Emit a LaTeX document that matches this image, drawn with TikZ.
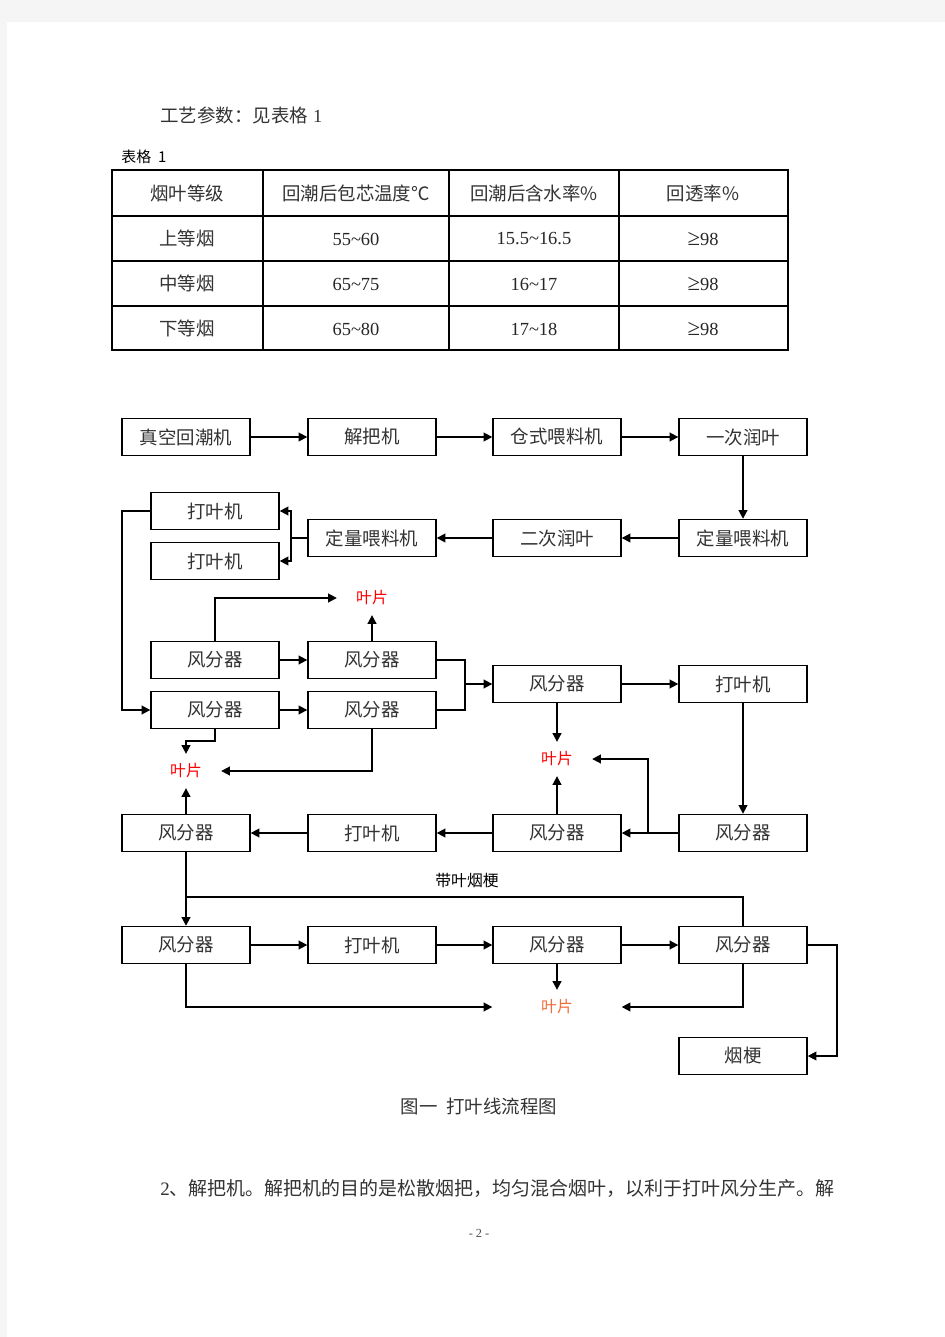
\documentclass[tikz,border=0pt]{standalone}
\usepackage{fontspec}
\setmainfont{Liberation Serif}
\newfontfamily\cjk{Noto Sans CJK SC}
\usetikzlibrary{arrows.meta,calc}

\tikzset{
    box/.style={draw, line width=0.8pt, minimum width=2.56cm, minimum height=0.74cm,
        inner sep=0pt, text=black!80, font=\cjk\fontsize{10.5pt}{12pt}\selectfont},
    arr/.style={line width=1pt, -{Triangle[length=5pt,width=5pt]}},
    link/.style={line width=1pt},
    yepian/.style={text=red, inner xsep=0.38cm, inner ysep=0.19cm,
        font=\cjk\fontsize{9pt}{10pt}\selectfont},
    cellcn/.style={text=black!80, font=\cjk\fontsize{10.5pt}{12pt}\selectfont},
    cellnum/.style={text=black!85, font=\fontsize{10.5pt}{12pt}\selectfont},
}
\newcommand{\geqsign}{{\fontsize{13pt}{12pt}\selectfont ≥}}

\begin{document}
\begin{tikzpicture}[x=0.02cm, y=-0.02cm]
    % Page
    \fill[black!4] (0,0) rectangle (945,1337);
    \fill[white] (7,22) rectangle (945,1337);
    \useasboundingbox (0,0) rectangle (945,1337);

    % Text above the table
    \node[cellcn, anchor=west, inner sep=0pt] (params) at (160,115) {工艺参数：见表格\hspace{3pt}{\rmfamily 1}};
    \node[anchor=west, inner sep=0pt, font=\cjk\fontsize{8.5pt}{10pt}\selectfont] (tabcap) at (121,157) {表格\hspace{4pt}1};

    % Table grid
    \draw[line width=0.8pt] (112,170) rectangle (788,350);
    \foreach \y in {216,261,306} \draw[line width=0.8pt] (112,\y) -- (788,\y);
    \foreach \x in {263,449,619} \draw[line width=0.8pt] (\x,170) -- (\x,350);

    % Table header
    \node[cellcn] (h_1) at (187,193) {烟叶等级};
    \node[cellcn] (h_2) at (356,193) {回潮后包芯温度℃};
    \node[cellcn] (h_3) at (534,193) {回潮后含水率\%};
    \node[cellcn] (h_4) at (703,193) {回透率\%};

    % Table rows
    \node[cellcn] (r1_1) at (187,238) {上等烟};
    \node[cellnum] (r1_2) at (356,239) {55\textasciitilde60};
    \node[cellnum] (r1_3) at (534,239) {15.5\textasciitilde16.5};
    \node[cellnum] (r1_4) at (703,239) {\geqsign98};

    \node[cellcn] (r2_1) at (187,283) {中等烟};
    \node[cellnum] (r2_2) at (356,284) {65\textasciitilde75};
    \node[cellnum] (r2_3) at (534,284) {16\textasciitilde17};
    \node[cellnum] (r2_4) at (703,284) {\geqsign98};

    \node[cellcn] (r3_1) at (187,328) {下等烟};
    \node[cellnum] (r3_2) at (356,329) {65\textasciitilde80};
    \node[cellnum] (r3_3) at (534,329) {17\textasciitilde18};
    \node[cellnum] (r3_4) at (703,329) {\geqsign98};

    % First row of the flow chart
    \node[box] (zkhc) at (186,437) {真空回潮机};
    \node[box] (jbj) at (372,437) {解把机};
    \node[box] (csw) at (557,437) {仓式喂料机};
    \node[box] (yc) at (743,437) {一次润叶};

    % Second row, running back to the left
    \node[box] (dl_1) at (743,538) {定量喂料机};
    \node[box] (ec) at (557,538) {二次润叶};
    \node[box] (dl_2) at (372,538) {定量喂料机};
    \node[box] (dy_1) at (215,511) {打叶机};
    \node[box] (dy_2) at (215,561) {打叶机};

    % Pairs of separators
    \node[box] (fa_1) at (215,660) {风分器};
    \node[box] (fa_2) at (372,660) {风分器};
    \node[box] (fb_1) at (215,710) {风分器};
    \node[box] (fb_2) at (372,710) {风分器};
    \node[box] (fc) at (557,684) {风分器};
    \node[box] (dy_3) at (743,684) {打叶机};

    % Return row
    \node[box] (fe) at (743,833) {风分器};
    \node[box] (ff) at (557,833) {风分器};
    \node[box] (dy_4) at (372,833) {打叶机};
    \node[box] (fh) at (186,833) {风分器};

    % Last row
    \node[box] (fi) at (186,945) {风分器};
    \node[box] (dy_5) at (372,945) {打叶机};
    \node[box] (fk) at (557,945) {风分器};
    \node[box] (fl) at (743,945) {风分器};
    \node[box] (geng) at (743,1056) {烟梗};

    % Outputs
    \node[yepian] (yp_1) at (372,598) {叶片};
    \node[yepian] (yp_2) at (186,771) {叶片};
    \node[yepian] (yp_3) at (557,759) {叶片};
    \node[yepian, text={rgb,255:red,240;green,110;blue,60}] (yp_4) at (557,1007) {叶片};
    \node[font=\cjk\fontsize{9pt}{10pt}\selectfont] (dyyg) at (467,881) {带叶烟梗};

    % Helper points
    \coordinate (mg) at (465,684);
    \coordinate (br) at (648,833);
    \coordinate (jn) at (186,897);

    % Connections
    \draw[arr] (zkhc) -- (jbj);
    \draw[arr] (jbj) -- (csw);
    \draw[arr] (csw) -- (yc);
    \draw[arr] (yc) -- (dl_1);
    \draw[arr] (dl_1) -- (ec);
    \draw[arr] (ec) -- (dl_2);
    \draw[link] (dl_2.west) -- ++(-16,0) coordinate (sp);
    \draw[arr] (sp) |- (dy_1.east);
    \draw[arr] (sp) |- (dy_2.east);
    \draw[arr] (dy_1.west) -- ++(-28,0) |- (fb_1.west);

    \draw[arr] (fa_1) -- (fa_2);
    \draw[arr] (fb_1) -- (fb_2);
    \draw[arr] (fa_1.north) |- (yp_1.west);
    \draw[arr] (fa_2.north) -- (yp_1.south);
    \draw[link] (fa_2.east) -| (mg) |- (fb_2.east);
    \draw[arr] (mg) -- (fc.west);
    \draw[arr] (fb_1.south) -- ++(0,12) -| (yp_2.north);
    \draw[arr] (fb_2.south) |- (yp_2.east);

    \draw[arr] (fc) -- (dy_3);
    \draw[arr] (fc.south) -- (yp_3.north);
    \draw[arr] (dy_3) -- (fe);
    \draw[arr] (fe) -- (ff);
    \draw[arr] (br) |- (yp_3.east);
    \draw[arr] (ff.north) -- (yp_3.south);
    \draw[arr] (ff) -- (dy_4);
    \draw[arr] (dy_4) -- (fh);
    \draw[arr] (fh.north) -- (yp_2.south);

    \draw[arr] (fh.south) -- (fi.north);
    \draw[link] (fl.north) |- (jn);
    \draw[arr] (fi) -- (dy_5);
    \draw[arr] (dy_5) -- (fk);
    \draw[arr] (fk) -- (fl);
    \draw[arr] (fk.south) -- (yp_4.north);
    \draw[arr] (fi.south) |- (fk.west |- yp_4);
    \draw[arr] (fl.south) |- (fk.east |- yp_4);
    \draw[arr] (fl.east) -- ++(29,0) |- (geng.east);

    % Caption and text below
    \node[cellcn] (caption) at (479,1106) {图一\hspace{5pt}打叶线流程图};
    \node[cellcn, anchor=west, inner sep=0pt, font=\cjk\fontsize{10.8pt}{12pt}\selectfont] (para) at (160,1188) {{\rmfamily 2}、解把机。解把机的目的是松散烟把，均匀混合烟叶，以利于打叶风分生产。解};
    \node[text=black!70, font=\fontsize{7pt}{8pt}\selectfont] (pageno) at (479,1233) {- 2 -};
\end{tikzpicture}
\end{document}
